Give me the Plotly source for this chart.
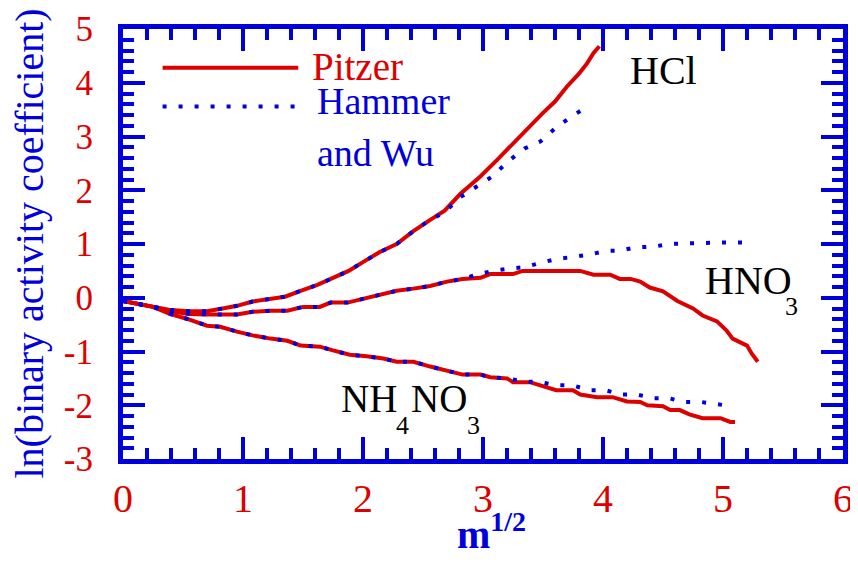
import plotly.graph_objects as go

# ---------------- data ----------------
hcl_pitzer_x = [0.0, 0.1, 0.25, 0.4, 0.55, 0.7, 0.83, 0.95, 1.08, 1.2, 1.35, 1.48, 1.62, 1.75,
                1.88, 2.02, 2.14, 2.28, 2.42, 2.56, 2.68, 2.81, 2.98, 3.12, 3.25, 3.37, 3.5,
                3.6, 3.7, 3.8, 3.87, 3.92, 3.97]
hcl_pitzer_y = [-0.06, -0.1, -0.17, -0.23, -0.25, -0.25, -0.2, -0.15, -0.07, -0.03, 0.02, 0.13,
                0.24, 0.37, 0.50, 0.69, 0.85, 1.0, 1.24, 1.45, 1.62, 1.93, 2.26, 2.57, 2.87,
                3.13, 3.44, 3.65, 3.93, 4.17, 4.37, 4.55, 4.68]

hcl_hw_x = [0.0, 0.1, 0.25, 0.4, 0.55, 0.7, 0.83, 0.95, 1.08, 1.2, 1.35, 1.48, 1.62, 1.75,
            1.88, 2.02, 2.14, 2.28, 2.42, 2.56, 2.68, 2.81, 2.95, 3.08, 3.21, 3.35, 3.48,
            3.61, 3.75, 3.88]
hcl_hw_y = [-0.06, -0.1, -0.17, -0.23, -0.25, -0.25, -0.2, -0.15, -0.07, -0.03, 0.02, 0.13,
            0.24, 0.37, 0.50, 0.69, 0.85, 1.0, 1.24, 1.45, 1.59, 1.87, 2.07, 2.26, 2.54,
            2.78, 2.91, 3.17, 3.39, 3.57]

hno3_pitzer_x = [0.0, 0.1, 0.25, 0.4, 0.55, 0.7, 0.81, 0.95, 1.08, 1.23, 1.37, 1.5, 1.64, 1.73,
                 1.87, 2.0, 2.14, 2.28, 2.42, 2.56, 2.7, 2.83, 2.98, 3.06, 3.25, 3.33, 3.56,
                 3.81, 3.92, 4.06, 4.14, 4.23, 4.31, 4.39, 4.5, 4.62, 4.75, 4.83, 4.95, 5.03,
                 5.08, 5.2, 5.24, 5.29]
hno3_pitzer_y = [-0.06, -0.1, -0.17, -0.25, -0.3, -0.31, -0.31, -0.31, -0.26, -0.24, -0.24,
                 -0.17, -0.17, -0.09, -0.09, -0.02, 0.06, 0.13, 0.17, 0.22, 0.30, 0.35, 0.37,
                 0.44, 0.44, 0.5, 0.5, 0.5, 0.43, 0.43, 0.35, 0.35, 0.30, 0.19, 0.12, -0.06,
                 -0.2, -0.33, -0.44, -0.61, -0.76, -0.89, -1.04, -1.19]

hno3_hw_x = [0.0, 0.1, 0.25, 0.4, 0.55, 0.7, 0.81, 0.95, 1.08, 1.23, 1.37, 1.5, 1.64, 1.73,
             1.87, 2.0, 2.14, 2.28, 2.42, 2.56, 2.7, 2.83, 2.95, 3.08, 3.21, 3.35, 3.48, 3.61,
             3.75, 3.88, 4.02, 4.15, 4.28, 4.42, 4.55, 4.8, 5.0, 5.23]
hno3_hw_y = [-0.06, -0.1, -0.17, -0.25, -0.3, -0.31, -0.31, -0.31, -0.26, -0.24, -0.24,
             -0.17, -0.17, -0.09, -0.09, -0.02, 0.06, 0.13, 0.17, 0.22, 0.30, 0.35, 0.43,
             0.50, 0.54, 0.57, 0.65, 0.72, 0.76, 0.80, 0.87, 0.88, 0.94, 0.95, 1.0, 1.02,
             1.03, 1.03]

nh4no3_pitzer_x = [0.0, 0.1, 0.25, 0.39, 0.53, 0.7, 0.81, 0.95, 1.08, 1.23, 1.37, 1.48, 1.64,
                   1.75, 1.89, 2.03, 2.17, 2.28, 2.42, 2.56, 2.7, 2.83, 2.98, 3.06, 3.2, 3.25,
                   3.39, 3.48, 3.61, 3.75, 3.81, 3.95, 4.08, 4.2, 4.31, 4.37, 4.5, 4.56, 4.64,
                   4.72, 4.83, 4.98, 5.06, 5.1]
nh4no3_pitzer_y = [-0.06, -0.1, -0.17, -0.30, -0.39, -0.52, -0.54, -0.63, -0.70, -0.76, -0.80,
                   -0.89, -0.91, -0.98, -1.06, -1.09, -1.13, -1.19, -1.19, -1.28, -1.35, -1.43,
                   -1.43, -1.48, -1.5, -1.57, -1.57, -1.63, -1.72, -1.72, -1.80, -1.85, -1.85,
                   -1.93, -1.94, -2.0, -2.02, -2.09, -2.09, -2.17, -2.24, -2.24, -2.31, -2.31]

nh4no3_hw_x = [0.0, 0.1, 0.25, 0.39, 0.53, 0.7, 0.81, 0.95, 1.08, 1.23, 1.37, 1.48, 1.64,
               1.75, 1.89, 2.03, 2.17, 2.28, 2.42, 2.56, 2.7, 2.83, 2.98, 3.06, 3.2, 3.35,
               3.48, 3.61, 3.75, 3.88, 4.02, 4.15, 4.28, 4.42, 4.55, 4.68, 4.82, 4.95, 5.08]
nh4no3_hw_y = [-0.06, -0.1, -0.17, -0.30, -0.39, -0.52, -0.54, -0.63, -0.70, -0.76, -0.80,
               -0.89, -0.91, -0.98, -1.06, -1.09, -1.13, -1.19, -1.19, -1.28, -1.35, -1.43,
               -1.43, -1.48, -1.5, -1.56, -1.57, -1.63, -1.63, -1.72, -1.72, -1.80, -1.80,
               -1.87, -1.87, -1.94, -1.94, -1.98, -2.02]

x_ticks = [0, 1, 2, 3, 4, 5, 6]
y_ticks = [-3, -2, -1, 0, 1, 2, 3, 4, 5]

# ---------------- styling ----------------
RED = "#dd0000"
BLUE = "#0000dd"
SERIF = "Liberation Serif"
RED_LINE = dict(color=RED, width=4)
BLUE_DOT = dict(color=BLUE, width=4, dash="4px,12px")

fig = go.Figure()
for xs, ys in [(hcl_pitzer_x, hcl_pitzer_y), (hno3_pitzer_x, hno3_pitzer_y),
               (nh4no3_pitzer_x, nh4no3_pitzer_y)]:
    fig.add_trace(go.Scatter(x=xs, y=ys, mode="lines", line=RED_LINE, showlegend=False))
for xs, ys in [(hcl_hw_x, hcl_hw_y), (hno3_hw_x, hno3_hw_y), (nh4no3_hw_x, nh4no3_hw_y)]:
    fig.add_trace(go.Scatter(x=xs, y=ys, mode="lines", line=BLUE_DOT, showlegend=False))

axis_common = dict(
    showline=True, linecolor=BLUE, linewidth=5, mirror="ticks",
    ticks="inside", ticklen=22, tickwidth=4, tickcolor=BLUE,
    showgrid=False, zeroline=False, automargin=False,
    minor=dict(ticks="inside", ticklen=11, tickwidth=4, tickcolor=BLUE, dtick=0.2,
               showgrid=False),
)

fig.update_xaxes(range=[0, 6], tickvals=x_ticks, ticktext=[str(v) for v in x_ticks],
                 tickfont=dict(family=SERIF, size=40, color=RED), ticklabelstandoff=0,
                 **axis_common)
fig.update_yaxes(range=[-3, 5], tickvals=y_ticks, ticktext=[str(v) for v in y_ticks],
                 tickfont=dict(family=SERIF, size=35, color=RED), ticklabelstandoff=18,
                 **axis_common)


def label(text, x, y, size, color, xanchor="left"):
    return dict(text=text, xref="x", yref="y", x=x, y=y, showarrow=False,
                xanchor=xanchor, yanchor="middle",
                font=dict(family=SERIF, size=size, color=color))


ann = []
# axis titles
ann.append(dict(text="ln(binary activity coefficient)", xref="paper", yref="paper",
                x=-0.13, y=0.502, textangle=-90, showarrow=False,
                font=dict(family=SERIF, size=40, color=BLUE), xanchor="center",
                yanchor="middle"))
ann.append(dict(text="<b>m<sup>1/2</sup></b>", xref="x", yref="paper", x=3.07, y=-0.104,
                showarrow=False, font=dict(family=SERIF, size=40, color=BLUE),
                xanchor="center", yanchor="top"))
# legend text
ann.append(label("Pitzer", 1.56, 4.31, 39, RED))
ann.append(label("Hammer", 1.6, 3.66, 38, BLUE))
ann.append(label("and Wu", 1.6, 2.7, 38, BLUE))
# curve labels
ann.append(label("HCl", 4.5, 4.23, 40, "black", xanchor="center"))
ann.append(label("HNO", 4.83, 0.33, 40, "black"))
ann.append(label("3", 5.5, -0.17, 26, "black"))
ann.append(label("NH", 1.8, -1.87, 39, "black"))
ann.append(label("4", 2.26, -2.37, 26, "black"))
ann.append(label("NO", 2.38, -1.87, 39, "black"))
ann.append(label("3", 2.85, -2.37, 26, "black"))

shapes = [
    dict(type="line", xref="x", yref="y", x0=0.33, x1=1.46, y0=4.28, y1=4.28,
         line=RED_LINE),
    dict(type="line", xref="x", yref="y", x0=0.33, x1=1.46, y0=3.56, y1=3.56,
         line=BLUE_DOT),
]

# page body adds an 8px margin, so the figure is 8px smaller than the window
fig.update_layout(
    width=850, height=559,
    margin=dict(l=115, r=15, t=21, b=108),
    plot_bgcolor="white", paper_bgcolor="white",
    annotations=ann, shapes=shapes, showlegend=False,
)

fig.write_html("out.html")
